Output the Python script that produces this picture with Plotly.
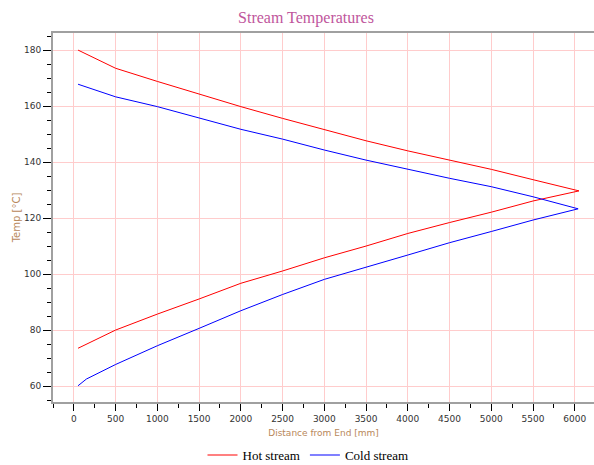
import plotly.graph_objects as go

# Hot stream: outbound (upper branch) then return (lower branch)
hot_x = [50, 500, 1000, 1500, 2000, 2500, 3000, 3500, 4000, 4500, 5000, 5500, 6050,
         5500, 5000, 4500, 4000, 3500, 3000, 2500, 2000, 1500, 1000, 500, 50]
hot_y = [180.0, 173.5, 168.8, 164.2, 159.8, 155.6, 151.7, 147.6, 144.0, 140.7, 137.4, 133.7, 129.7,
         126.1, 122.1, 118.4, 114.5, 110.0, 105.8, 101.1, 96.7, 91.1, 85.7, 80.0, 73.5]

cold_x = [50, 500, 1000, 1500, 2000, 2500, 3000, 3500, 4000, 4500, 5000, 5500, 6040,
          5500, 5000, 4500, 4000, 3500, 3000, 2500, 2000, 1500, 1000, 500, 150, 50]
cold_y = [167.8, 163.3, 159.8, 155.8, 151.7, 148.2, 144.3, 140.7, 137.4, 134.2, 131.2, 127.6, 123.3,
          119.3, 115.2, 111.2, 106.8, 102.4, 98.1, 92.7, 86.9, 80.6, 74.4, 67.7, 62.5, 60.1]

series_names = ["Hot stream", "Cold stream"]

fig = go.Figure()
fig.add_trace(go.Scatter(x=hot_x, y=hot_y, mode="lines",
                         line=dict(color="#ff0000", width=1),
                         showlegend=False, hoverinfo="skip"))
fig.add_trace(go.Scatter(x=cold_x, y=cold_y, mode="lines",
                         line=dict(color="#0000ff", width=1),
                         showlegend=False, hoverinfo="skip"))
# legend entries
fig.add_trace(go.Scatter(x=[None], y=[None], mode="lines", line=dict(color="#ff8080", width=2),
                         name=series_names[0]))
fig.add_trace(go.Scatter(x=[None], y=[None], mode="lines", line=dict(color="#8080ff", width=2),
                         name=series_names[1]))

tick_font = dict(family="DejaVu Sans", size=9, color="#333333")
label_color = "#b8875a"

fig.update_layout(
    width=594, height=465,
    margin=dict(l=53, r=0, t=33, b=63),
    paper_bgcolor="white", plot_bgcolor="white",
    title=dict(text="Stream Temperatures", x=306/594, xref="container", xanchor="center",
               y=1-17/465, yref="container", yanchor="middle",
               font=dict(family="Liberation Serif", size=16, color="#c0569c")),
    legend=dict(orientation="h", x=308/594, xanchor="center", xref="container",
                y=10/465, yref="container", yanchor="middle",
                font=dict(family="Liberation Serif", size=13, color="#000000"),
                itemwidth=30, tracegroupgap=0),
    xaxis=dict(range=[-250, 6230], dtick=500, tick0=0,
               showgrid=True, gridcolor="#ffcccc", gridwidth=1, zeroline=False,
               showline=True, linecolor="#a0a0a0", linewidth=2, mirror=True,
               ticks="outside", ticklen=7, tickcolor="#000000", tickwidth=1,
               minor=dict(dtick=250, tick0=0, ticks="outside", ticklen=4, tickcolor="#000000", showgrid=False),
               tickfont=tick_font,
               title=dict(text="Distance from End [mm]", standoff=7,
                          font=dict(family="DejaVu Sans", size=9, color=label_color))),
    yaxis=dict(range=[54.3, 186.1], dtick=20, tick0=0,
               showgrid=True, gridcolor="#ffcccc", gridwidth=1, zeroline=False,
               showline=True, linecolor="#a0a0a0", linewidth=2, mirror=False,
               ticks="outside", ticklen=8, tickcolor="#000000", tickwidth=1,
               minor=dict(dtick=5, tick0=0, ticks="outside", ticklen=4, tickcolor="#000000", showgrid=False),
               tickfont=tick_font,
               title=dict(text="Temp [°C]", standoff=2,
                          font=dict(family="DejaVu Sans", size=10, color=label_color))),
)

fig.write_html("out.html")
